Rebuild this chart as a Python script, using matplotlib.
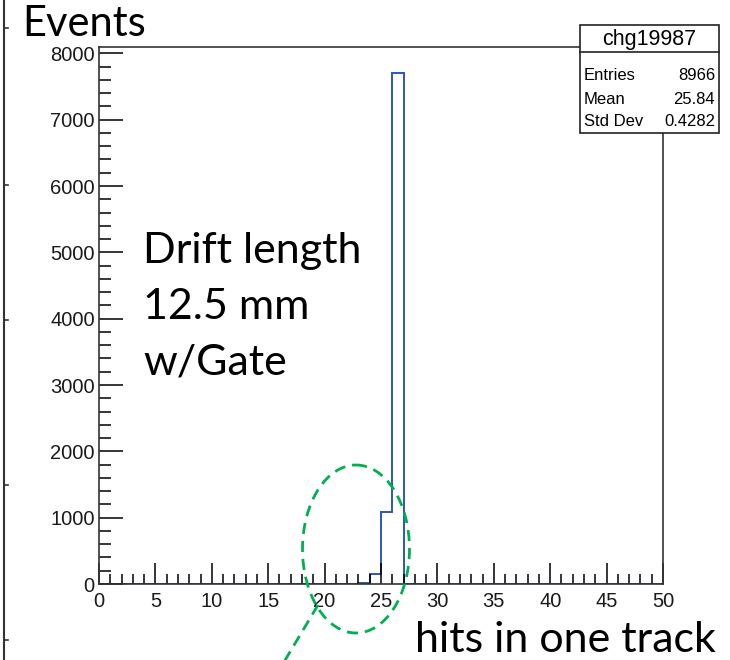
import numpy as np
import matplotlib
matplotlib.use("Agg")
import matplotlib.pyplot as plt
from matplotlib.patches import Ellipse, Rectangle
from matplotlib.ticker import MultipleLocator

# ---- data ----
n_bins = 50
x_min, x_max = 0, 50
filled_bins = [23, 24, 25, 26]
filled_counts = [8, 158, 1090, 7710]
stats_title = "chg19987"
stats_labels = ["Entries", "Mean", "Std Dev"]
stats_values = ["8966", "25.84", "0.4282"]
x_ticks = [0, 5, 10, 15, 20, 25, 30, 35, 40, 45, 50]
y_ticks = [0, 1000, 2000, 3000, 4000, 5000, 6000, 7000, 8000]

counts = np.zeros(n_bins)
for b, c in zip(filled_bins, filled_counts):
    counts[b] = c
edges = np.linspace(x_min, x_max, n_bins + 1)

W, H = 730, 660
fig = plt.figure(figsize=(W / 100, H / 100), dpi=100)

L, R, T, B = 99, 663, 47, 584
ax = fig.add_axes([L / W, (H - B) / H, (R - L) / W, (B - T) / H])

ax.stairs(counts, edges, color="#2a58b8", linewidth=1.4)
ax.set_xlim(x_min, x_max)
ax.set_ylim(0, max(counts) * 1.05)

ax.set_xticks(x_ticks)
ax.set_yticks(y_ticks)
ax.xaxis.set_minor_locator(MultipleLocator(1))
ax.yaxis.set_minor_locator(MultipleLocator(200))
ax.tick_params(axis="both", which="both", direction="in", colors="black",
               labelcolor="#1a1a1a", width=1.1)
ax.tick_params(axis="x", which="major", length=15, pad=6)
ax.tick_params(axis="x", which="minor", length=7.5)
ax.tick_params(axis="y", which="major", length=17, pad=3)
ax.tick_params(axis="y", which="minor", length=8.5)
ax.tick_params(top=False, right=False, which="both")
for lab in ax.get_xticklabels() + ax.get_yticklabels():
    lab.set_fontfamily("Liberation Sans")
    lab.set_fontsize(14.5)
for s in ax.spines.values():
    s.set_linewidth(1.2)
    s.set_color("#333333")

# overlay in pixel coords
ov = fig.add_axes([0, 0, 1, 1], zorder=10)
ov.set_xlim(0, W)
ov.set_ylim(H, 0)
ov.axis("off")
ov.patch.set_alpha(0)

# stats box
bx0, bx1, by0, by1, bsep = 580, 719, 25, 133, 52
ov.add_patch(Rectangle((bx0, by0), bx1 - bx0, by1 - by0, facecolor="white",
                       edgecolor="#222222", linewidth=1.2))
ov.plot([bx0, bx1], [bsep, bsep], color="#222222", linewidth=1.2)
ov.text((bx0 + bx1) / 2, (by0 + bsep) / 2 + 1, stats_title, ha="center", va="center",
        fontsize=15.5, family="Liberation Sans")
row_y = [75, 99, 122]
for y, lab, val in zip(row_y, stats_labels, stats_values):
    ov.text(bx0 + 4, y, lab, ha="left", va="center", fontsize=12, family="Liberation Sans")
    ov.text(bx1 - 4, y, val, ha="right", va="center", fontsize=12, family="Liberation Sans")

# texts
ov.text(22, 24, "Events", ha="left", va="center", fontsize=30, family="Lato")
ov.text(415, 640, "hits in one track", ha="left", va="center", fontsize=31, family="Lato")
ov.text(143, 232, "Drift length\n12.5 mm\nw/Gate", ha="left", va="top", fontsize=31,
        family="Lato", linespacing=1.57)

# green dashed ellipse and pointer line
green = "#00b050"
ov.add_patch(Ellipse((356, 549), 107, 168, fill=False, edgecolor=green,
                     linewidth=2.0, linestyle=(0, (4, 2.5))))
ov.plot([318, 284], [605, 662], color=green, linewidth=2.0, linestyle=(0, (4, 2.5)))

# left slide edge artifact
ov.plot([4, 4], [0, H], color="#333333", linewidth=1.5)
for ty in [28, 185, 320, 485, 640]:
    ov.plot([4, 8], [ty, ty], color="#333333", linewidth=1.2)

fig.savefig("out.png", dpi=100)
